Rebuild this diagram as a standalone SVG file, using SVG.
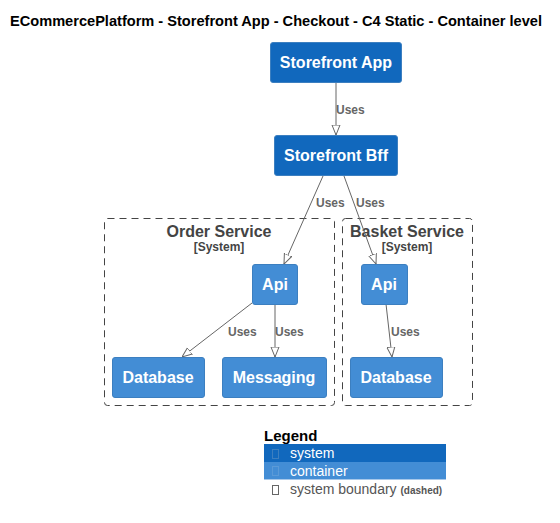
<svg xmlns="http://www.w3.org/2000/svg" width="560" height="523" viewBox="0 0 560 523">
<style>
.title{font-family:"Liberation Sans",Arial,sans-serif;font-size:14.6px;font-weight:bold;fill:#000}
.sys{fill:#1168BD;stroke:#3C7FC0;stroke-width:1}
.cont{fill:#438DD5;stroke:#3C7FC0;stroke-width:1}
.nt{font-family:"Liberation Sans",Arial,sans-serif;font-size:16px;font-weight:bold;fill:#fff;text-anchor:middle}
.bnd{fill:none;stroke:#444;stroke-width:1;stroke-dasharray:7,5}
.bt{font-family:"Liberation Sans",Arial,sans-serif;font-size:16px;font-weight:bold;fill:#444;text-anchor:middle}
.bs{font-family:"Liberation Sans",Arial,sans-serif;font-size:12px;font-weight:bold;fill:#444;text-anchor:middle}
.edge{stroke:#666;stroke-width:1;fill:none;marker-end:url(#arr)}
.el{font-family:"Liberation Sans",Arial,sans-serif;font-size:12px;font-weight:bold;fill:#666}
.lg{font-family:"Liberation Sans",Arial,sans-serif;font-size:14px;fill:#fff}
</style>
<defs>
<marker id="arr" viewBox="0 0 10 10" refX="10" refY="5" markerWidth="10" markerHeight="10" markerUnits="userSpaceOnUse" orient="auto">
<path d="M0,1 L10,5 L0,9 Z" fill="#fff" stroke="#666" stroke-width="1"/>
</marker>
</defs>
<rect width="560" height="523" fill="#fff"/>
<text class="title" x="10" y="26" textLength="532" lengthAdjust="spacingAndGlyphs">ECommercePlatform - Storefront App - Checkout - C4 Static - Container level</text>

<g id="boundary-order">
<rect class="bnd" x="104.5" y="218.5" width="230" height="187" rx="3"/>
<text class="bt" x="219" y="237">Order Service</text>
<text class="bs" x="219" y="251">[System]</text>
</g>
<g id="boundary-basket">
<rect class="bnd" x="342.5" y="218.5" width="130" height="187" rx="3"/>
<text class="bt" x="407" y="237">Basket Service</text>
<text class="bs" x="407" y="251">[System]</text>
</g>

<g id="connectors">
<line class="edge" x1="336" y1="82" x2="336" y2="135"/>
<text class="el" x="336" y="114">Uses</text>
<line class="edge" x1="323" y1="176" x2="284" y2="264"/>
<text class="el" x="316" y="207">Uses</text>
<line class="edge" x1="344" y1="176" x2="376" y2="264"/>
<text class="el" x="356" y="207">Uses</text>
<line class="edge" x1="252" y1="303" x2="182" y2="357"/>
<text class="el" x="228" y="336">Uses</text>
<line class="edge" x1="275" y1="304" x2="275" y2="357"/>
<text class="el" x="275" y="336">Uses</text>
<line class="edge" x1="386" y1="304" x2="392" y2="357"/>
<text class="el" x="391" y="336">Uses</text>
</g>

<g id="storefront-app">
<rect class="sys" x="270.5" y="42.5" width="131" height="40" rx="2.5"/>
<text class="nt" x="336" y="68">Storefront App</text>
</g>
<g id="storefront-bff">
<rect class="sys" x="274.5" y="135.5" width="123" height="40" rx="2.5"/>
<text class="nt" x="336" y="161">Storefront Bff</text>
</g>
<g id="order-api">
<rect class="cont" x="252.5" y="264.5" width="45" height="40" rx="2.5"/>
<text class="nt" x="275" y="290">Api</text>
</g>
<g id="order-database">
<rect class="cont" x="112.5" y="357.5" width="92" height="40" rx="2.5"/>
<text class="nt" x="158" y="383">Database</text>
</g>
<g id="order-messaging">
<rect class="cont" x="222.5" y="357.5" width="104" height="40" rx="2.5"/>
<text class="nt" x="274" y="383">Messaging</text>
</g>
<g id="basket-api">
<rect class="cont" x="361.5" y="264.5" width="46" height="40" rx="2.5"/>
<text class="nt" x="384" y="290">Api</text>
</g>
<g id="basket-database">
<rect class="cont" x="350.5" y="357.5" width="92" height="40" rx="2.5"/>
<text class="nt" x="396" y="383">Database</text>
</g>

<g id="legend">
<text x="264" y="441" font-family="Liberation Sans,Arial,sans-serif" font-size="15" font-weight="bold" fill="#000">Legend</text>
<rect x="264" y="444" width="182" height="18" fill="#1168BD"/>
<rect x="264" y="462" width="182" height="17" fill="#438DD5"/>
<rect x="264" y="479" width="182" height="1" fill="#a8c8ea"/>
<rect x="272.5" y="449.5" width="6" height="9" fill="none" stroke="#3C7FC0" stroke-width="1"/>
<rect x="272.5" y="466.5" width="6" height="9" fill="none" stroke="#5a9ad8" stroke-width="1"/>
<rect x="272.5" y="485.5" width="6" height="9" fill="none" stroke="#666" stroke-width="1"/>
<text class="lg" x="290" y="458">system</text>
<text class="lg" x="290" y="476">container</text>
<text x="290" y="494" font-family="Liberation Sans,Arial,sans-serif" font-size="14" fill="#555">system boundary <tspan font-size="10" font-weight="bold">(dashed)</tspan></text>
</g>
</svg>
